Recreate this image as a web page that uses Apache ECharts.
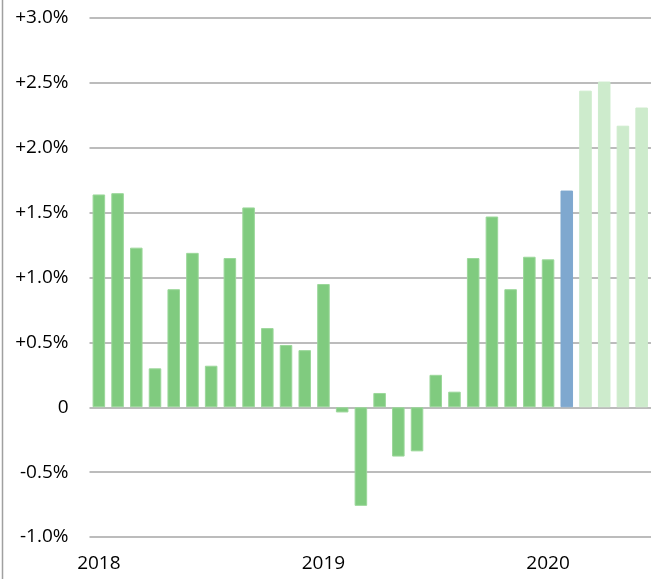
<!DOCTYPE html>
<html>
<head>
<meta charset="utf-8">
<script src="https://cdn.jsdelivr.net/npm/echarts@6/dist/echarts.min.js"></script>
<style>
html,body{margin:0;padding:0;background:#fff;}
#chart{width:655px;height:579px;}
</style>
</head>
<body>
<div id="chart"></div>
<script>
// months Jan 2018 .. Jun 2020
const months = ["2018-01","2018-02","2018-03","2018-04","2018-05","2018-06","2018-07","2018-08","2018-09","2018-10","2018-11","2018-12",
"2019-01","2019-02","2019-03","2019-04","2019-05","2019-06","2019-07","2019-08","2019-09","2019-10","2019-11","2019-12",
"2020-01","2020-02","2020-03","2020-04","2020-05","2020-06"];
// values in percent
const values = [1.64,1.65,1.23,0.30,0.91,1.19,0.32,1.15,1.54,0.61,0.48,0.44,0.95,-0.04,-0.76,0.11,-0.38,-0.34,0.25,0.12,1.15,1.47,0.91,1.16,1.14,1.67,2.44,2.51,2.17,2.31];
// kind of each bar: actual, current, forecast
const kinds = ["a","a","a","a","a","a","a","a","a","a","a","a","a","a","a","a","a","a","a","a","a","a","a","a","a","c","f","f","f","f"];
const yearLabels = {"2018-01":"2018","2019-01":"2019","2020-01":"2020"};
const yTicks = [-1.0,-0.5,0,0.5,1.0,1.5,2.0,2.5,3.0];

const colors = {a:"#80cb7f", c:"#7fa8cf", f:"#cdebcc"};
const borders = {a:"#9bd79a", c:"#7fa8cf", f:"#cdebcc"};

const chart = echarts.init(document.getElementById('chart'), null, {renderer:'canvas'});
chart.setOption({
  animation:false,
  backgroundColor:'#fff',
  grid:{left:89.5, right:4, top:18, bottom:42, containLabel:false},
  xAxis:{
    type:'category',
    data:months,
    axisLine:{show:false},
    axisTick:{show:false},
    axisLabel:{
      interval:0,
      margin:17,
      fontFamily:'Open Sans',
      fontSize:19,
      color:'#000',
      formatter:v=>yearLabels[v]||''
    }
  },
  yAxis:{
    type:'value',
    min:yTicks[0], max:yTicks[yTicks.length-1], interval:0.5,
    axisLine:{show:false},
    axisTick:{show:false},
    splitLine:{lineStyle:{color:'#a6a6a6', width:1.5}},
    axisLabel:{
      margin:21,
      fontFamily:'Open Sans',
      fontSize:19,
      color:'#000',
      formatter:v=>{
        if (Math.abs(v)<1e-9) return '0';
        return (v>0?'+':'')+v.toFixed(1)+'%';
      }
    }
  },
  series:[{
    type:'bar',
    barWidth:'67%',
    data:values.map((v,i)=>({
      value:v,
      itemStyle:{color:colors[kinds[i]], borderColor:borders[kinds[i]], borderWidth:1}
    }))
  }],
  graphic:[{
    type:'line',
    shape:{x1:2.5,y1:0,x2:2.5,y2:579},
    style:{stroke:'#a0a0a0', lineWidth:1.5}
  }]
});
</script>
</body>
</html>
